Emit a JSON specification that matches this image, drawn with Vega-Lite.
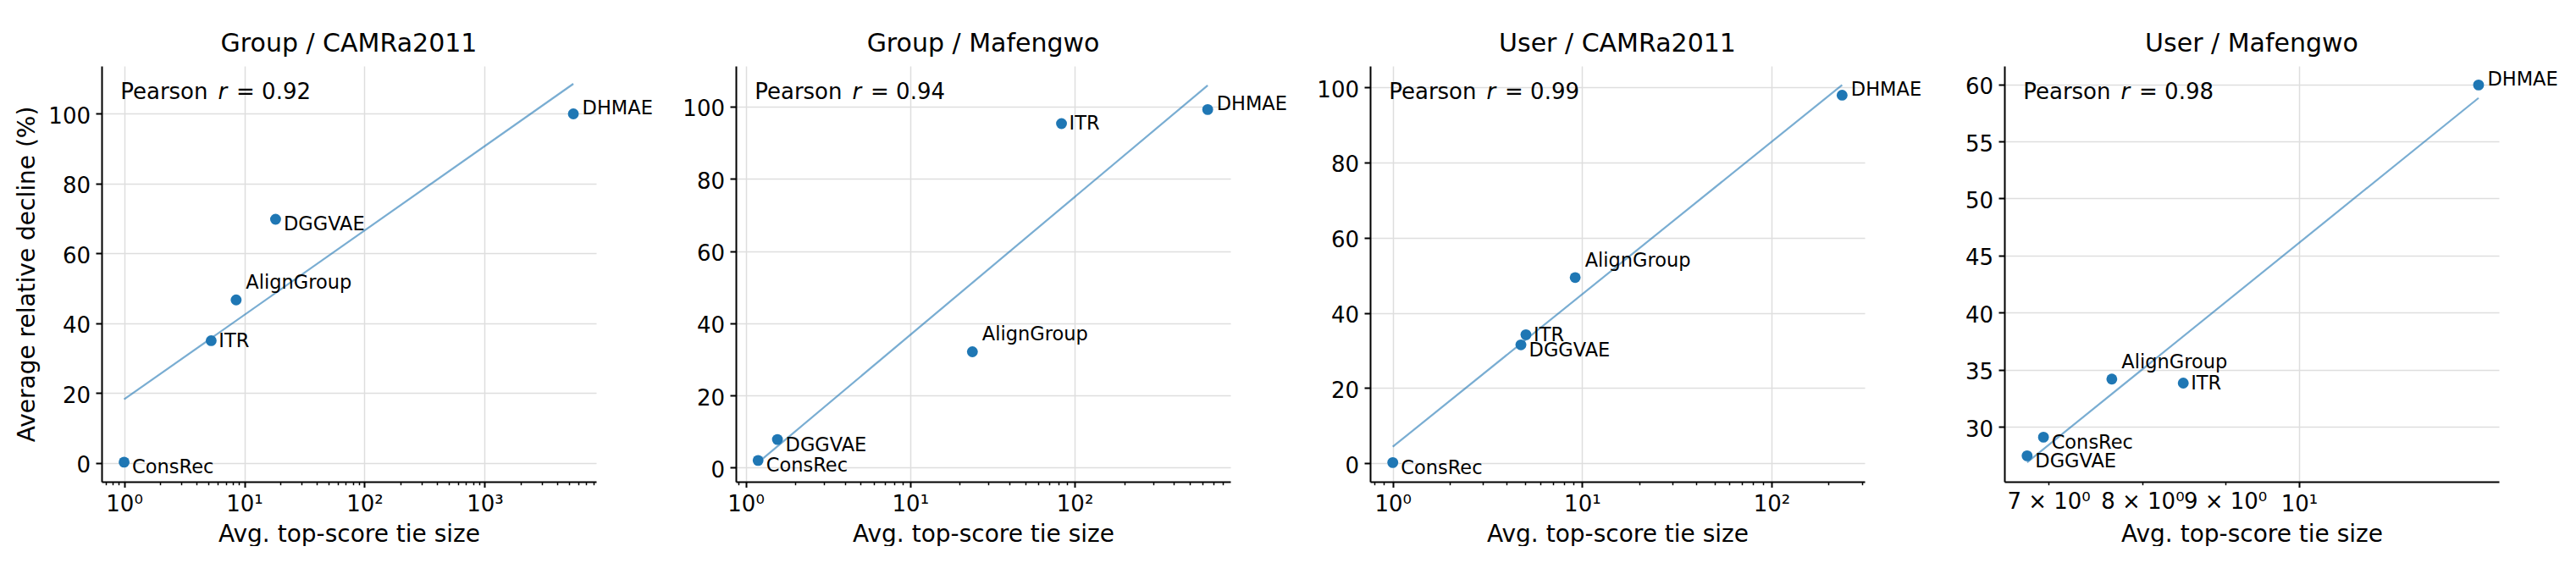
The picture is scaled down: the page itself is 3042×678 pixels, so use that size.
{
  "$schema": "https://vega.github.io/schema/vega-lite/v6.json",
  "padding": {"left": 17, "top": 37, "right": 0, "bottom": 0},
  "background": "white",
  "datasets": {
    "points": [
      {"panel": "Group / CAMRa2011", "method": "ConsRec", "tie": 1.0, "decline": 0.2},
      {"panel": "Group / CAMRa2011", "method": "ITR", "tie": 5.3, "decline": 35.0},
      {"panel": "Group / CAMRa2011", "method": "AlignGroup", "tie": 8.55, "decline": 46.7},
      {"panel": "Group / CAMRa2011", "method": "DGGVAE", "tie": 18.2, "decline": 69.8},
      {"panel": "Group / CAMRa2011", "method": "DHMAE", "tie": 5460, "decline": 100.0},
      {"panel": "Group / Mafengwo", "method": "ConsRec", "tie": 1.19, "decline": 2.0},
      {"panel": "Group / Mafengwo", "method": "DGGVAE", "tie": 1.56, "decline": 7.8},
      {"panel": "Group / Mafengwo", "method": "AlignGroup", "tie": 23.9, "decline": 32.1},
      {"panel": "Group / Mafengwo", "method": "ITR", "tie": 83.2, "decline": 95.3},
      {"panel": "Group / Mafengwo", "method": "DHMAE", "tie": 644, "decline": 99.2},
      {"panel": "User / CAMRa2011", "method": "ConsRec", "tie": 1.0, "decline": 0.2},
      {"panel": "User / CAMRa2011", "method": "DGGVAE", "tie": 4.75, "decline": 31.5},
      {"panel": "User / CAMRa2011", "method": "ITR", "tie": 5.05, "decline": 34.2},
      {"panel": "User / CAMRa2011", "method": "AlignGroup", "tie": 9.19, "decline": 49.4},
      {"panel": "User / CAMRa2011", "method": "DHMAE", "tie": 236, "decline": 97.9},
      {"panel": "User / Mafengwo", "method": "DGGVAE", "tie": 6.79, "decline": 27.47},
      {"panel": "User / Mafengwo", "method": "ConsRec", "tie": 6.95, "decline": 29.1},
      {"panel": "User / Mafengwo", "method": "AlignGroup", "tie": 7.66, "decline": 34.19},
      {"panel": "User / Mafengwo", "method": "ITR", "tie": 8.48, "decline": 33.84},
      {"panel": "User / Mafengwo", "method": "DHMAE", "tie": 12.91, "decline": 59.94}
    ],
    "fits": [
      {"panel": "Group / CAMRa2011", "tie": 1.0, "decline": 18.2},
      {"panel": "Group / CAMRa2011", "tie": 5460, "decline": 108.6},
      {"panel": "Group / Mafengwo", "tie": 1.19, "decline": 1.4},
      {"panel": "Group / Mafengwo", "tie": 644, "decline": 105.9},
      {"panel": "User / CAMRa2011", "tie": 1.0, "decline": 4.4},
      {"panel": "User / CAMRa2011", "tie": 236, "decline": 100.6},
      {"panel": "User / Mafengwo", "tie": 6.79, "decline": 26.9},
      {"panel": "User / Mafengwo", "tie": 12.91, "decline": 58.8}
    ],
    "stats": [
      {"panel": "Group / CAMRa2011", "r": 0.92},
      {"panel": "Group / Mafengwo", "r": 0.94},
      {"panel": "User / CAMRa2011", "r": 0.99},
      {"panel": "User / Mafengwo", "r": 0.98}
    ]
  },
  "config": {
    "font": "DejaVu Sans",
    "view": {"stroke": null},
    "title": {"font": "DejaVu Sans", "fontSize": 30, "fontWeight": "normal", "color": "black", "baseline": "alphabetic", "offset": 11, "frame": "group", "anchor": "middle"},
    "axis": {
      "domainColor": "black", "domainWidth": 2, "tickColor": "black", "tickWidth": 2,
      "labelColor": "black", "labelFont": "DejaVu Sans", "labelFontSize": 26,
      "titleFont": "DejaVu Sans", "titleFontSize": 28, "titleFontWeight": "normal", "titleColor": "black",
      "gridColor": "#dedede", "gridWidth": 1.5, "labelOverlap": false, "labelFlush": false, "labelBound": false
    },
    "axisX": {"labelPadding": 6.6, "titleX": 292, "titleY": 70, "titleBaseline": "alphabetic", "titleAlign": "center"},
    "axisY": {"tickSize": 7, "labelPadding": 6.5, "labelOffset": 3, "titleX": -80, "titleY": 245.5, "titleBaseline": "alphabetic", "titleAlign": "center", "titleAngle": -90},
    "text": {"font": "DejaVu Sans", "color": "black", "align": "left", "baseline": "alphabetic"}
  },
  "hconcat": [
    {
      "width": 584, "height": 491,
      "title": "Group / CAMRa2011",
      "layer": [
        {
          "encoding": {
            "x": {"field": "tie", "type": "quantitative",
              "scale": {"type": "log", "domain": [0.65, 8450], "nice": false},
              "axis": {"title": "Avg. top-score tie size",
                "values": [0.7,0.8,0.9,1,2,3,4,5,6,7,8,9,10,20,30,40,50,60,70,80,90,100,200,300,400,500,600,700,800,900,1000,2000,3000,4000,5000,6000,7000,8000],
                "labelExpr": "datum.value == 1 ? '10⁰' : datum.value == 10 ? '10¹' : datum.value == 100 ? '10²' : datum.value == 1000 ? '10³' : ''",
                "tickSize": {"condition": {"test": "indexof([1,10,100,1000], datum.value) >= 0", "value": 6.5}, "value": 3.7},
                "tickWidth": {"condition": {"test": "indexof([1,10,100,1000], datum.value) >= 0", "value": 2}, "value": 1.5},
                "gridOpacity": {"condition": {"test": "indexof([1,10,100,1000], datum.value) >= 0", "value": 1}, "value": 0}}},
            "y": {"field": "decline", "type": "quantitative",
              "scale": {"domain": [-5.4, 113.7], "nice": false, "zero": false},
              "axis": {"title": "Average relative decline (%)", "values": [0,20,40,60,80,100]}}
          },
          "layer": [
            {"data": {"name": "points"}, "transform": [{"filter": "datum.panel == 'Group / CAMRa2011'"}],
             "mark": {"type": "circle", "size": 165, "color": "#1f77b4", "opacity": 1}},
            {"data": {"name": "fits"}, "transform": [{"filter": "datum.panel == 'Group / CAMRa2011'"}],
             "mark": {"type": "line", "color": "#1f77b4", "opacity": 0.6, "strokeWidth": 2.2}, "encoding": {}},
            {"data": {"name": "points"}, "transform": [{"filter": "datum.panel == 'Group / CAMRa2011' && datum.method == 'DHMAE'"}],
             "mark": {"type": "text", "dx": 10.5, "dy": 0.5, "fontSize": 22.5}, "encoding": {"text": {"field": "method"}}},
            {"data": {"name": "points"}, "transform": [{"filter": "datum.panel == 'Group / CAMRa2011' && datum.method == 'AlignGroup'"}],
             "mark": {"type": "text", "dx": 11.5, "dy": -13, "fontSize": 22.5}, "encoding": {"text": {"field": "method"}}},
            {"data": {"name": "points"}, "transform": [{"filter": "datum.panel == 'Group / CAMRa2011' && datum.method == 'ITR'"}],
             "mark": {"type": "text", "dx": 9, "dy": 7.3, "fontSize": 22.5}, "encoding": {"text": {"field": "method"}}},
            {"data": {"name": "points"}, "transform": [{"filter": "datum.panel == 'Group / CAMRa2011' && (datum.method == 'ConsRec' || datum.method == 'DGGVAE')"}],
             "mark": {"type": "text", "dx": 9.5, "dy": 13.5, "fontSize": 22.5}, "encoding": {"text": {"field": "method"}}}
          ]
        },
        {"data": {"name": "stats"}, "transform": [{"filter": "datum.panel == 'Group / CAMRa2011'"}],
         "encoding": {"x": {"datum": 0.65, "type": "quantitative"}, "y": {"datum": 113.7, "type": "quantitative"}},
         "layer": [
           {"mark": {"type": "text", "text": "Pearson", "dx": 22.2, "dy": 39.3, "fontSize": 26}},
           {"mark": {"type": "text", "text": "r", "fontStyle": "italic", "dx": 137.5, "dy": 39.3, "fontSize": 26}},
           {"mark": {"type": "text", "text": "=", "dx": 159, "dy": 39.3, "fontSize": 26}},
           {"mark": {"type": "text", "dx": 189.1, "dy": 39.3, "fontSize": 26}, "encoding": {"text": {"field": "r", "format": ".2f"}}}
         ]}
      ]
    },
    {
      "width": 584, "height": 491,
      "title": "Group / Mafengwo",
      "layer": [
        {
          "encoding": {
            "x": {"field": "tie", "type": "quantitative",
              "scale": {"type": "log", "domain": [0.872, 885], "nice": false},
              "axis": {"title": "Avg. top-score tie size",
                "values": [0.9,1,2,3,4,5,6,7,8,9,10,20,30,40,50,60,70,80,90,100,200,300,400,500,600,700,800],
                "labelExpr": "datum.value == 1 ? '10⁰' : datum.value == 10 ? '10¹' : datum.value == 100 ? '10²' : ''",
                "tickSize": {"condition": {"test": "indexof([1,10,100], datum.value) >= 0", "value": 6.5}, "value": 3.7},
                "tickWidth": {"condition": {"test": "indexof([1,10,100], datum.value) >= 0", "value": 2}, "value": 1.5},
                "gridOpacity": {"condition": {"test": "indexof([1,10,100], datum.value) >= 0", "value": 1}, "value": 0}}},
            "y": {"field": "decline", "type": "quantitative",
              "scale": {"domain": [-3.9, 111.25], "nice": false, "zero": false},
              "axis": {"title": null, "values": [0,20,40,60,80,100]}}
          },
          "layer": [
            {"data": {"name": "points"}, "transform": [{"filter": "datum.panel == 'Group / Mafengwo'"}],
             "mark": {"type": "circle", "size": 165, "color": "#1f77b4", "opacity": 1}},
            {"data": {"name": "fits"}, "transform": [{"filter": "datum.panel == 'Group / Mafengwo'"}],
             "mark": {"type": "line", "color": "#1f77b4", "opacity": 0.6, "strokeWidth": 2.2}, "encoding": {}},
            {"data": {"name": "points"}, "transform": [{"filter": "datum.panel == 'Group / Mafengwo' && datum.method == 'DHMAE'"}],
             "mark": {"type": "text", "dx": 10.5, "dy": 0.5, "fontSize": 22.5}, "encoding": {"text": {"field": "method"}}},
            {"data": {"name": "points"}, "transform": [{"filter": "datum.panel == 'Group / Mafengwo' && datum.method == 'AlignGroup'"}],
             "mark": {"type": "text", "dx": 11.5, "dy": -13, "fontSize": 22.5}, "encoding": {"text": {"field": "method"}}},
            {"data": {"name": "points"}, "transform": [{"filter": "datum.panel == 'Group / Mafengwo' && datum.method == 'ITR'"}],
             "mark": {"type": "text", "dx": 9, "dy": 7.3, "fontSize": 22.5}, "encoding": {"text": {"field": "method"}}},
            {"data": {"name": "points"}, "transform": [{"filter": "datum.panel == 'Group / Mafengwo' && (datum.method == 'ConsRec' || datum.method == 'DGGVAE')"}],
             "mark": {"type": "text", "dx": 9.5, "dy": 13.5, "fontSize": 22.5}, "encoding": {"text": {"field": "method"}}}
          ]
        },
        {"data": {"name": "stats"}, "transform": [{"filter": "datum.panel == 'Group / Mafengwo'"}],
         "encoding": {"x": {"datum": 0.872, "type": "quantitative"}, "y": {"datum": 111.25, "type": "quantitative"}},
         "layer": [
           {"mark": {"type": "text", "text": "Pearson", "dx": 22.2, "dy": 39.3, "fontSize": 26}},
           {"mark": {"type": "text", "text": "r", "fontStyle": "italic", "dx": 137.5, "dy": 39.3, "fontSize": 26}},
           {"mark": {"type": "text", "text": "=", "dx": 159, "dy": 39.3, "fontSize": 26}},
           {"mark": {"type": "text", "dx": 189.1, "dy": 39.3, "fontSize": 26}, "encoding": {"text": {"field": "r", "format": ".2f"}}}
         ]}
      ]
    },
    {
      "width": 584, "height": 491,
      "title": "User / CAMRa2011",
      "layer": [
        {
          "encoding": {
            "x": {"field": "tie", "type": "quantitative",
              "scale": {"type": "log", "domain": [0.7594, 310.5], "nice": false},
              "axis": {"title": "Avg. top-score tie size",
                "values": [0.8,0.9,1,2,3,4,5,6,7,8,9,10,20,30,40,50,60,70,80,90,100,200,300],
                "labelExpr": "datum.value == 1 ? '10⁰' : datum.value == 10 ? '10¹' : datum.value == 100 ? '10²' : ''",
                "tickSize": {"condition": {"test": "indexof([1,10,100], datum.value) >= 0", "value": 6.5}, "value": 3.7},
                "tickWidth": {"condition": {"test": "indexof([1,10,100], datum.value) >= 0", "value": 2}, "value": 1.5},
                "gridOpacity": {"condition": {"test": "indexof([1,10,100], datum.value) >= 0", "value": 1}, "value": 0}}},
            "y": {"field": "decline", "type": "quantitative",
              "scale": {"domain": [-4.9, 105.65], "nice": false, "zero": false},
              "axis": {"title": null, "values": [0,20,40,60,80,100]}}
          },
          "layer": [
            {"data": {"name": "points"}, "transform": [{"filter": "datum.panel == 'User / CAMRa2011'"}],
             "mark": {"type": "circle", "size": 165, "color": "#1f77b4", "opacity": 1}},
            {"data": {"name": "fits"}, "transform": [{"filter": "datum.panel == 'User / CAMRa2011'"}],
             "mark": {"type": "line", "color": "#1f77b4", "opacity": 0.6, "strokeWidth": 2.2}, "encoding": {}},
            {"data": {"name": "points"}, "transform": [{"filter": "datum.panel == 'User / CAMRa2011' && datum.method == 'DHMAE'"}],
             "mark": {"type": "text", "dx": 10.5, "dy": 0.5, "fontSize": 22.5}, "encoding": {"text": {"field": "method"}}},
            {"data": {"name": "points"}, "transform": [{"filter": "datum.panel == 'User / CAMRa2011' && datum.method == 'AlignGroup'"}],
             "mark": {"type": "text", "dx": 11.5, "dy": -13, "fontSize": 22.5}, "encoding": {"text": {"field": "method"}}},
            {"data": {"name": "points"}, "transform": [{"filter": "datum.panel == 'User / CAMRa2011' && datum.method == 'ITR'"}],
             "mark": {"type": "text", "dx": 9, "dy": 7.3, "fontSize": 22.5}, "encoding": {"text": {"field": "method"}}},
            {"data": {"name": "points"}, "transform": [{"filter": "datum.panel == 'User / CAMRa2011' && (datum.method == 'ConsRec' || datum.method == 'DGGVAE')"}],
             "mark": {"type": "text", "dx": 9.5, "dy": 13.5, "fontSize": 22.5}, "encoding": {"text": {"field": "method"}}}
          ]
        },
        {"data": {"name": "stats"}, "transform": [{"filter": "datum.panel == 'User / CAMRa2011'"}],
         "encoding": {"x": {"datum": 0.7594, "type": "quantitative"}, "y": {"datum": 105.65, "type": "quantitative"}},
         "layer": [
           {"mark": {"type": "text", "text": "Pearson", "dx": 22.2, "dy": 39.3, "fontSize": 26}},
           {"mark": {"type": "text", "text": "r", "fontStyle": "italic", "dx": 137.5, "dy": 39.3, "fontSize": 26}},
           {"mark": {"type": "text", "text": "=", "dx": 159, "dy": 39.3, "fontSize": 26}},
           {"mark": {"type": "text", "dx": 189.1, "dy": 39.3, "fontSize": 26}, "encoding": {"text": {"field": "r", "format": ".2f"}}}
         ]}
      ]
    },
    {
      "width": 584, "height": 491,
      "title": "User / Mafengwo",
      "layer": [
        {
          "encoding": {
            "x": {"field": "tie", "type": "quantitative",
              "scale": {"type": "log", "domain": [6.574, 13.29], "nice": false},
              "axis": {"title": "Avg. top-score tie size",
                "values": [7,8,9,10],
                "labelExpr": "datum.value == 7 ? '7 × 10⁰' : datum.value == 8 ? '8 × 10⁰' : datum.value == 9 ? '9 × 10⁰' : datum.value == 10 ? '10¹' : ''",
                "tickSize": {"condition": {"test": "datum.value == 10", "value": 6.5}, "value": 3.7},
                "tickWidth": {"condition": {"test": "datum.value == 10", "value": 2}, "value": 1.5},
                "gridOpacity": {"condition": {"test": "datum.value == 10", "value": 1}, "value": 0}}},
            "y": {"field": "decline", "type": "quantitative",
              "scale": {"domain": [25.2, 61.6], "nice": false, "zero": false},
              "axis": {"title": null, "values": [30,35,40,45,50,55,60]}}
          },
          "layer": [
            {"data": {"name": "points"}, "transform": [{"filter": "datum.panel == 'User / Mafengwo'"}],
             "mark": {"type": "circle", "size": 165, "color": "#1f77b4", "opacity": 1}},
            {"data": {"name": "fits"}, "transform": [{"filter": "datum.panel == 'User / Mafengwo'"}],
             "mark": {"type": "line", "color": "#1f77b4", "opacity": 0.6, "strokeWidth": 2.2}, "encoding": {}},
            {"data": {"name": "points"}, "transform": [{"filter": "datum.panel == 'User / Mafengwo' && datum.method == 'DHMAE'"}],
             "mark": {"type": "text", "dx": 10.5, "dy": 0.5, "fontSize": 22.5}, "encoding": {"text": {"field": "method"}}},
            {"data": {"name": "points"}, "transform": [{"filter": "datum.panel == 'User / Mafengwo' && datum.method == 'AlignGroup'"}],
             "mark": {"type": "text", "dx": 11.5, "dy": -13, "fontSize": 22.5}, "encoding": {"text": {"field": "method"}}},
            {"data": {"name": "points"}, "transform": [{"filter": "datum.panel == 'User / Mafengwo' && datum.method == 'ITR'"}],
             "mark": {"type": "text", "dx": 9, "dy": 7.3, "fontSize": 22.5}, "encoding": {"text": {"field": "method"}}},
            {"data": {"name": "points"}, "transform": [{"filter": "datum.panel == 'User / Mafengwo' && (datum.method == 'ConsRec' || datum.method == 'DGGVAE')"}],
             "mark": {"type": "text", "dx": 9.5, "dy": 13.5, "fontSize": 22.5}, "encoding": {"text": {"field": "method"}}}
          ]
        },
        {"data": {"name": "stats"}, "transform": [{"filter": "datum.panel == 'User / Mafengwo'"}],
         "encoding": {"x": {"datum": 6.574, "type": "quantitative"}, "y": {"datum": 61.6, "type": "quantitative"}},
         "layer": [
           {"mark": {"type": "text", "text": "Pearson", "dx": 22.2, "dy": 39.3, "fontSize": 26}},
           {"mark": {"type": "text", "text": "r", "fontStyle": "italic", "dx": 137.5, "dy": 39.3, "fontSize": 26}},
           {"mark": {"type": "text", "text": "=", "dx": 159, "dy": 39.3, "fontSize": 26}},
           {"mark": {"type": "text", "dx": 189.1, "dy": 39.3, "fontSize": 26}, "encoding": {"text": {"field": "r", "format": ".2f"}}}
         ]}
      ]
    }
  ],
  "spacing": 165,
  "bounds": "flush"
}
